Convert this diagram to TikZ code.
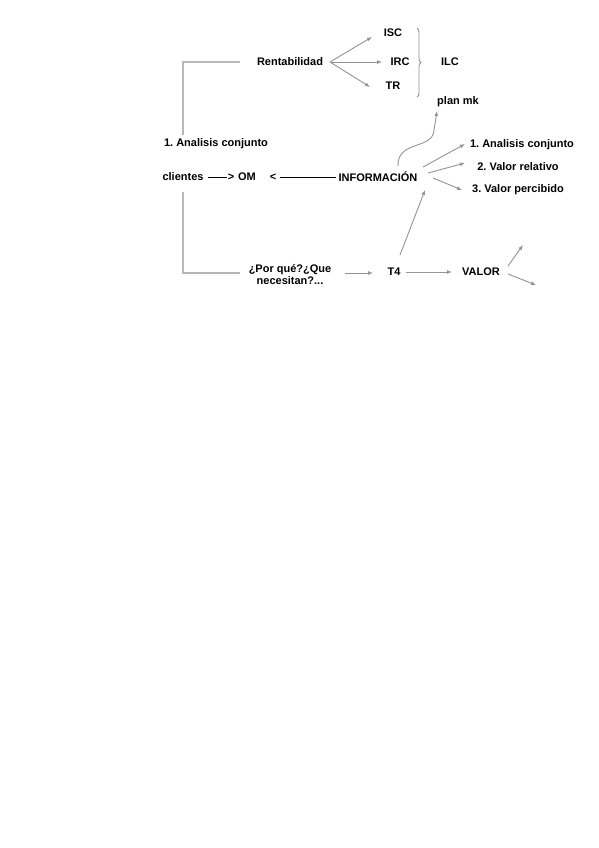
\documentclass[tikz,border=0pt]{standalone}
\usepackage{fontspec}
\setmainfont{Liberation Sans}
\usetikzlibrary{arrows.meta,decorations.pathreplacing}
\begin{document}
\frenchspacing
\begin{tikzpicture}[x=1pt,y=-1pt,
  lbl/.style={font=\bfseries\fontsize{11}{12}\selectfont,inner sep=0pt,text=black},
  arr/.style={draw=black!42,line width=0.9pt,-{Latex[length=5pt,width=4pt]}},
  plain/.style={draw=black!42,line width=0.9pt},
  frame/.style={draw=black!28,line width=1.1pt},
  txtline/.style={draw=black,line width=0.6pt}]
\useasboundingbox (0,0) rectangle (599,848);
\fill[white] (0,0) rectangle (599,848);
% nodes
\node[lbl] (rent) at (290,62) {Rentabilidad};
\node[lbl] (isc) at (393,33) {ISC};
\node[lbl] (irc) at (400,62) {IRC};
\node[lbl] (tr) at (393,86) {TR};
\node[lbl] (ilc) at (450,62) {ILC};
\node[lbl] (plan) at (458,102) {plan mk};
\node[lbl] (ac) at (216,144) {1. Analisis conjunto};
\node[lbl] (cli) at (183,177) {clientes};
\node[lbl] (gt) at (231,177) {>};
\node[lbl] (om) at (247,177) {OM};
\node[lbl] (lt) at (273,177) {<};
\node[lbl] (info) at (378,177) {INFORMACIÓN};
\node[lbl] (r1) at (522,145) {1. Analisis conjunto};
\node[lbl] (r2) at (518,167) {2. Valor relativo};
\node[lbl] (r3) at (518,190) {3. Valor percibido};
\node[lbl,align=center] (porq) at (290,275) {¿Por qué?¿Que\\necesitan?...};
\node[lbl] (t4) at (394,272) {T4};
\node[lbl] (valor) at (481,272) {VALOR};
% coordinates for arrow ends
\coordinate (iscE) at (372,37);
\coordinate (ircE) at (382,62);
\coordinate (trE) at (370,87);
\coordinate (rentS) at (330,62);
\coordinate (r1S) at (423,167);
\coordinate (r1E) at (465,144);
\coordinate (r2S) at (428,173);
\coordinate (r2E) at (465,163);
\coordinate (r3S) at (433,178);
\coordinate (r3E) at (462,190);
\coordinate (t4S) at (400,255);
\coordinate (infoE) at (425,190);
\coordinate (pS) at (345,273);
\coordinate (pE) at (373,273);
\coordinate (tS) at (406,272);
\coordinate (vE) at (452,272);
\coordinate (vS1) at (508,266);
\coordinate (vE1) at (523,245);
\coordinate (vS2) at (508,274);
\coordinate (vE2) at (536,285);
\coordinate (cS) at (398,166);
\coordinate (planE) at (437,111);
\coordinate (fA) at (240,62);
\coordinate (fB) at (183,62);
\coordinate (fC) at (183,135);
\coordinate (fD) at (183,192);
\coordinate (fE) at (183,273);
\coordinate (fF) at (240,273);
\coordinate (bT) at (417,28);
\coordinate (bB) at (417,97);
% frame lines
\draw[frame] (fA) -- (fB) -- (fC);
\draw[frame] (fD) -- (fE) -- (fF);
% arrows from Rentabilidad
\draw[arr] (rentS) -- (iscE);
\draw[arr] (rentS) -- (ircE);
\draw[arr] (rentS) -- (trE);
% brace
\draw[plain,decorate,decoration={brace,amplitude=4pt}] (bT) -- (bB);
% curve to plan mk
\draw[arr] (cS) .. controls (397,140) and (433,150) .. (434,130) -- (planE);
% text-line arrows
\draw[txtline] (cli.east) ++(4,0) -- ([xshift=-0.5pt]gt.west);
\draw[txtline] (lt.east) ++(4,0) -- ([xshift=-2pt]info.west);
% arrows from INFORMACION
\draw[arr] (r1S) -- (r1E);
\draw[arr] (r2S) -- (r2E);
\draw[arr] (r3S) -- (r3E);
% T4 to INFORMACION
\draw[arr] (t4S) -- (infoE);
% bottom row
\draw[arr] (pS) -- (pE);
\draw[arr] (tS) -- (vE);
\draw[arr] (vS1) -- (vE1);
\draw[arr] (vS2) -- (vE2);
\end{tikzpicture}
\end{document}
